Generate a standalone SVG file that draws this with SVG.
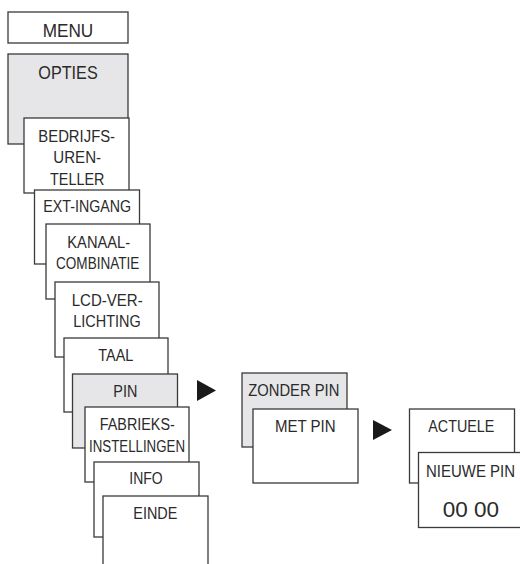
<svg xmlns="http://www.w3.org/2000/svg" width="520" height="564" viewBox="0 0 520 564">
<style>
.b{fill:#fff;stroke:#3a3a3a;stroke-width:1.3}
.g{fill:#e6e6e8;stroke:#3a3a3a;stroke-width:1.3}
text{font-family:"Liberation Sans",Arial,sans-serif;font-size:16px;fill:#2a2a2a;text-anchor:middle}
.l{font-size:18.5px}
.xl{font-size:22px}
.a{fill:#1a1a1a}
</style>
<rect width="520" height="564" fill="#fff"/>
<g id="menu"><rect class="b" x="8" y="12" width="120" height="31"/><text class="l" x="68" y="36.7" textLength="50.6" lengthAdjust="spacingAndGlyphs">MENU</text></g>
<g id="opties"><rect class="g" x="8" y="54" width="120" height="90"/><text class="l" x="68" y="79" textLength="59.4" lengthAdjust="spacingAndGlyphs">OPTIES</text></g>
<g id="bedrijfs"><rect class="b" x="24" y="118" width="105" height="75"/>
<text x="76.7" y="141.7" textLength="76.7" lengthAdjust="spacingAndGlyphs">BEDRIJFS-</text>
<text x="77.2" y="163.3" textLength="47.7" lengthAdjust="spacingAndGlyphs">UREN-</text>
<text x="77.2" y="185" textLength="54.3" lengthAdjust="spacingAndGlyphs">TELLER</text></g>
<g id="extingang"><rect class="b" x="34.5" y="190" width="105" height="74"/><text x="87.2" y="212.3" textLength="87.7" lengthAdjust="spacingAndGlyphs">EXT-INGANG</text></g>
<g id="kanaal"><rect class="b" x="46" y="224" width="104" height="75"/>
<text x="98.7" y="247.7" textLength="62.7" lengthAdjust="spacingAndGlyphs">KANAAL-</text>
<text x="97.7" y="269.3" textLength="83.3" lengthAdjust="spacingAndGlyphs">COMBINATIE</text></g>
<g id="lcd"><rect class="b" x="55" y="282" width="104" height="75"/>
<text x="107.2" y="305.7" textLength="71" lengthAdjust="spacingAndGlyphs">LCD-VER-</text>
<text x="107" y="326.7" textLength="67.4" lengthAdjust="spacingAndGlyphs">LICHTING</text></g>
<g id="taal"><rect class="b" x="64" y="338" width="104" height="74"/><text x="115.8" y="360.7" textLength="35" lengthAdjust="spacingAndGlyphs">TAAL</text></g>
<g id="pin"><rect class="g" x="72.5" y="374" width="105" height="74"/><text x="125.3" y="397" textLength="24" lengthAdjust="spacingAndGlyphs">PIN</text></g>
<g id="fabrieks"><rect class="b" x="85" y="407" width="104" height="75"/>
<text x="137.3" y="430.3" textLength="75" lengthAdjust="spacingAndGlyphs">FABRIEKS-</text>
<text x="137" y="452" textLength="96" lengthAdjust="spacingAndGlyphs">INSTELLINGEN</text></g>
<g id="info"><rect class="b" x="94" y="462" width="105" height="75"/><text x="146" y="484.3" textLength="33.4" lengthAdjust="spacingAndGlyphs">INFO</text></g>
<g id="einde"><rect class="b" x="103" y="496" width="105" height="80"/><text x="155.3" y="519" textLength="44" lengthAdjust="spacingAndGlyphs">EINDE</text></g>
<g id="zonderpin"><rect class="g" x="242" y="373" width="105" height="74"/><text x="293.8" y="396" textLength="91" lengthAdjust="spacingAndGlyphs">ZONDER PIN</text></g>
<g id="metpin"><rect class="b" x="253" y="409" width="105" height="74"/><text x="305.3" y="431.7" textLength="60.7" lengthAdjust="spacingAndGlyphs">MET PIN</text></g>
<g id="actuele"><rect class="b" x="409.5" y="409" width="105" height="74"/><text x="461.3" y="431.7" textLength="66" lengthAdjust="spacingAndGlyphs">ACTUELE</text></g>
<g id="nieuwepin"><rect class="b" x="418.5" y="452.5" width="110" height="75"/>
<text x="470.5" y="476.7" textLength="89" lengthAdjust="spacingAndGlyphs">NIEUWE PIN</text>
<text class="xl" x="470.8" y="517" textLength="56.3" lengthAdjust="spacingAndGlyphs">00 00</text></g>
<g id="connectors">
<polygon class="a" points="197,380 216,390.5 197,401"/>
<polygon class="a" points="373,420 392,430 373,440"/>
</g>
</svg>
